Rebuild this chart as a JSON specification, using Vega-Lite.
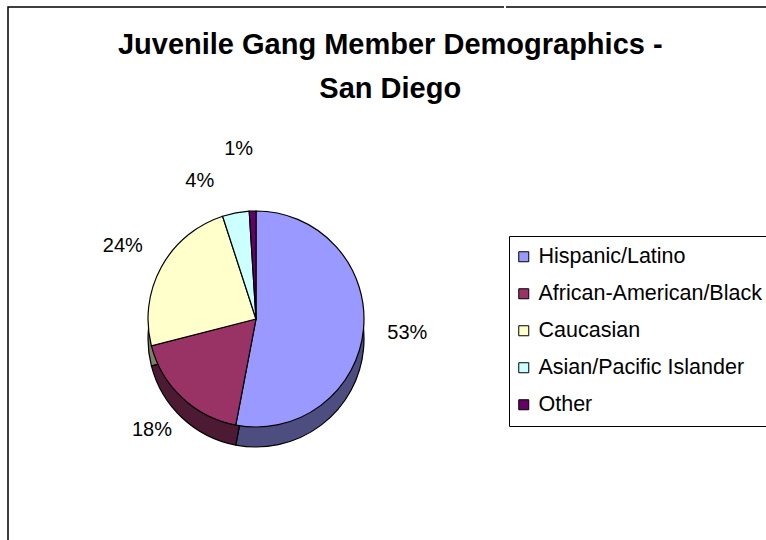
{
  "$schema": "https://vega.github.io/schema/vega-lite/v6.json",
  "padding": {"left": 7, "top": 6, "right": 0, "bottom": 0},
  "background": "white",
  "title": {
    "text": ["Juvenile Gang Member Demographics -", "San Diego"],
    "font": "Liberation Sans",
    "fontSize": 29,
    "fontWeight": "bold",
    "color": "black",
    "lineHeight": 44,
    "anchor": "middle",
    "offset": -98
  },
  "datasets": {
    "demographics": [
      {"group": "Hispanic/Latino", "share": 0.53, "rank": 1},
      {"group": "African-American/Black", "share": 0.18, "rank": 2},
      {"group": "Caucasian", "share": 0.24, "rank": 3},
      {"group": "Asian/Pacific Islander", "share": 0.04, "rank": 4},
      {"group": "Other", "share": 0.01, "rank": 5}
    ]
  },
  "spacing": 0,
  "resolve": {"scale": {"color": "independent"}, "legend": {"color": "independent"}},
  "hconcat": [
    {
      "width": 496,
      "height": 624,
      "view": {"stroke": "black", "strokeWidth": 1.5, "strokeDash": [496, 1120, 624, 10]},
      "data": {"name": "demographics"},
      "layer": [
        {
          "mark": {"type": "arc", "outerRadius": 108, "yOffset": 20, "stroke": "black", "strokeWidth": 1.2},
          "encoding": {
            "theta": {"field": "share", "type": "quantitative", "stack": true},
            "order": {"field": "rank", "type": "quantitative"},
            "color": {
              "field": "group",
              "type": "nominal",
              "scale": {
                "domain": ["Hispanic/Latino", "African-American/Black", "Caucasian", "Asian/Pacific Islander", "Other"],
                "range": ["#4d4d80", "#4d1a33", "#808066", "#668080", "#330033"]
              },
              "legend": null
            }
          }
        },
        {
          "mark": {"type": "arc", "outerRadius": 108, "stroke": "black", "strokeWidth": 1.2},
          "encoding": {
            "theta": {"field": "share", "type": "quantitative", "stack": true},
            "order": {"field": "rank", "type": "quantitative"},
            "color": {
              "field": "group",
              "type": "nominal",
              "scale": {
                "domain": ["Hispanic/Latino", "African-American/Black", "Caucasian", "Asian/Pacific Islander", "Other"],
                "range": ["#9999ff", "#993366", "#ffffcc", "#ccffff", "#660066"]
              },
              "legend": null
            }
          }
        },
        {
          "mark": {"type": "text", "radius": 152, "font": "Liberation Sans", "fontSize": 20, "color": "black"},
          "encoding": {
            "theta": {"field": "share", "type": "quantitative", "stack": true},
            "order": {"field": "rank", "type": "quantitative"},
            "detail": {"field": "group", "type": "nominal"},
            "text": {"condition": {"test": "datum.share < 0.1", "value": ""}, "field": "share", "type": "quantitative", "format": ".0%"}
          }
        },
        {
          "mark": {"type": "text", "radius": 140, "dx": -30, "font": "Liberation Sans", "fontSize": 20, "color": "black"},
          "encoding": {
            "theta": {"field": "share", "type": "quantitative", "stack": true},
            "order": {"field": "rank", "type": "quantitative"},
            "detail": {"field": "group", "type": "nominal"},
            "text": {"condition": {"test": "datum.group !== 'Asian/Pacific Islander'", "value": ""}, "field": "share", "type": "quantitative", "format": ".0%"}
          }
        },
        {
          "mark": {"type": "text", "radius": 170, "dx": -12, "font": "Liberation Sans", "fontSize": 20, "color": "black"},
          "encoding": {
            "theta": {"field": "share", "type": "quantitative", "stack": true},
            "order": {"field": "rank", "type": "quantitative"},
            "detail": {"field": "group", "type": "nominal"},
            "text": {"condition": {"test": "datum.group !== 'Other'", "value": ""}, "field": "share", "type": "quantitative", "format": ".0%"}
          }
        }
      ],
      "resolve": {"scale": {"color": "independent"}}
    },
    {
      "width": 263,
      "height": 624,
      "view": {"stroke": "black", "strokeWidth": 1.5, "strokeDash": [263, 5000]},
      "data": {"name": "demographics"},
      "mark": {"type": "square", "opacity": 0},
      "encoding": {
        "color": {
          "field": "group",
          "type": "nominal",
          "scale": {
            "domain": ["Hispanic/Latino", "African-American/Black", "Caucasian", "Asian/Pacific Islander", "Other"],
            "range": ["#9999ff", "#993366", "#ffffcc", "#ccffff", "#660066"]
          },
          "legend": {
            "title": null,
            "orient": "none",
            "legendX": 3,
            "legendY": 229,
            "padding": 10,
            "strokeColor": "black",
            "fillColor": "white",
            "symbolType": "square",
            "symbolSize": 100,
            "symbolOffset": -6,
            "symbolStrokeColor": "black",
            "symbolStrokeWidth": 1,
            "symbolOpacity": 1,
            "labelFont": "Liberation Sans",
            "labelFontSize": 21.5,
            "labelColor": "black",
            "labelLimit": 400,
            "labelOffset": 4,
            "rowPadding": 14
          }
        }
      }
    }
  ],
  "config": {
    "font": "Liberation Sans"
  }
}
